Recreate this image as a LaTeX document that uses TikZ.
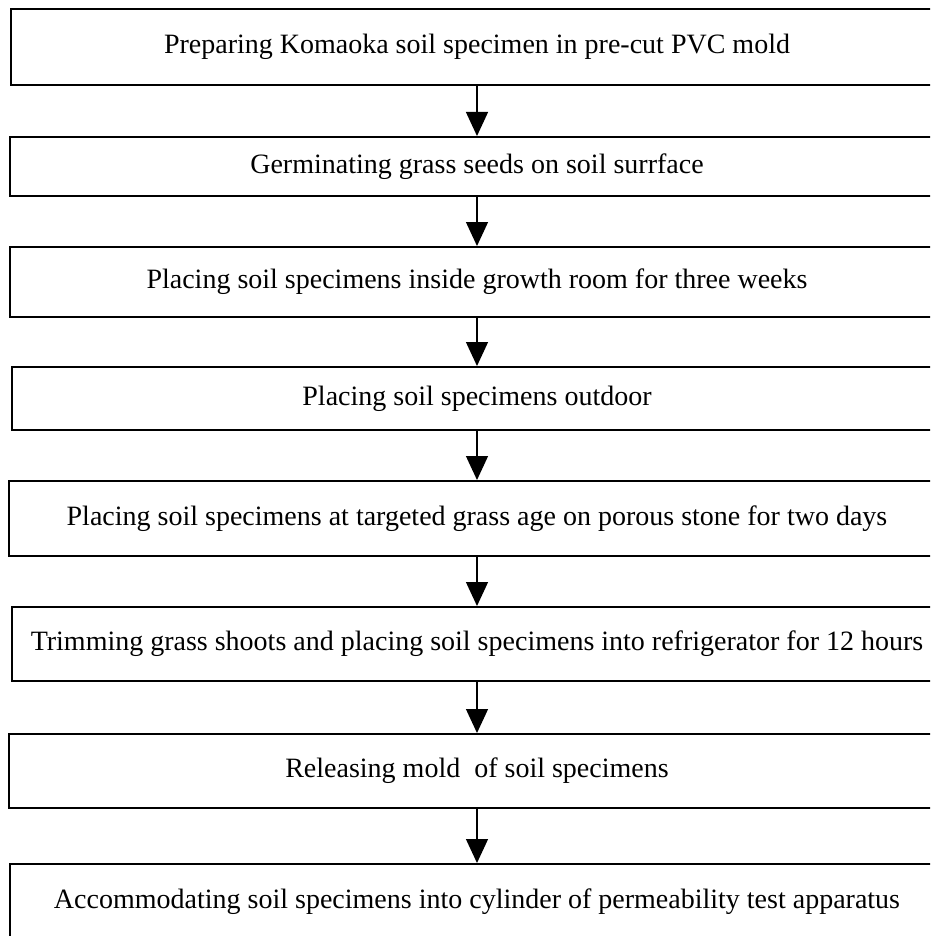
\documentclass[tikz,border=0pt]{standalone}
\usepackage{fontspec}
\setmainfont{Liberation Serif}
\usetikzlibrary{arrows.meta}
\tikzset{
  stepbox/.style={draw=black, line width=2pt, rectangle, inner sep=0pt, fill=white,
    font=\fontsize{28}{32}\selectfont, text=black},
  arr/.style={draw=black, line width=1.3pt, -{Triangle[width=22pt,length=24pt]}}
}
\begin{document}
\begin{tikzpicture}[x=1pt,y=-1pt]
\useasboundingbox (0,0) rectangle (930,936);
\fill[white] (0,0) rectangle (930,936);
\clip (0,0) rectangle (930,936);
\node[stepbox, minimum width=932pt, minimum height=76pt] (b1) at (477,47) {Preparing Komaoka soil specimen in pre-cut PVC mold};
\node[stepbox, minimum width=935pt, minimum height=59pt] (b2) at (477,166.5) {Germinating grass seeds on soil surrface};
\node[stepbox, minimum width=935pt, minimum height=70pt] (b3) at (477,282) {Placing soil specimens inside growth room for three weeks};
\node[stepbox, minimum width=931pt, minimum height=63pt] (b4) at (477,398.5) {Placing soil specimens outdoor};
\node[stepbox, minimum width=936pt, minimum height=75pt] (b5) at (477,518.5) {Placing soil specimens at targeted grass age on porous stone for two days};
\node[stepbox, minimum width=930pt, minimum height=74pt] (b6) at (477,644) {Trimming grass shoots and placing soil specimens into refrigerator for 12 hours};
\node[stepbox, minimum width=936pt, minimum height=74pt] (b7) at (477,771) {Releasing mold\ \ of soil specimens};
\node[stepbox, minimum width=935pt, minimum height=76pt] (b8) at (477,902) {Accommodating soil specimens into cylinder of permeability test apparatus};
\draw[arr] (b1.south) -- (b2.north);
\draw[arr] (b2.south) -- (b3.north);
\draw[arr] (b3.south) -- (b4.north);
\draw[arr] (b4.south) -- (b5.north);
\draw[arr] (b5.south) -- (b6.north);
\draw[arr] (b6.south) -- (b7.north);
\draw[arr] (b7.south) -- (b8.north);
\end{tikzpicture}
\end{document}
